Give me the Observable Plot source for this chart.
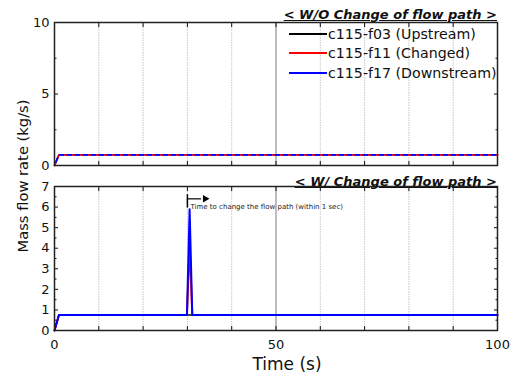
<!DOCTYPE html>
<html><head><meta charset="utf-8">
<script src="https://cdn.jsdelivr.net/npm/d3@7"></script>
<script src="https://cdn.jsdelivr.net/npm/@observablehq/plot@0.6"></script>
<style>
body{margin:0;background:#fff;}
#wrap{position:relative;width:512px;height:376px;overflow:hidden;font-family:"DejaVu Sans",sans-serif;color:#111;}
#wrap svg{position:absolute;left:0;overflow:visible;}
.title{position:absolute;right:15px;font-weight:bold;font-style:italic;font-size:13px;line-height:15px;text-decoration:underline;white-space:nowrap;}
.legend{position:absolute;left:289px;top:24px;font-size:14.2px;}
.legend .row{display:flex;align-items:center;height:19.5px;white-space:nowrap;}
.legend .sw{display:inline-block;width:38px;height:2px;margin-right:1px;}
.ylab{position:absolute;left:22px;top:176px;transform:translate(-50%,-50%) rotate(-90deg);font-size:14.7px;white-space:nowrap;}
.xlab{position:absolute;left:287px;top:364px;transform:translate(-50%,-50%);font-size:17px;white-space:nowrap;}
</style></head><body><div id="wrap"></div>
<script>
// ---- data ----
const seriesNames = ["c115-f03 (Upstream)", "c115-f11 (Changed)", "c115-f17 (Downstream)"];
const seriesColors = ["#000000", "#ff0000", "#0000ff"];
const panelTitles = ["< W/O Change of flow path >", "< W/ Change of flow path >"];

// top panel: without change of flow path
const timeTop = [0, 1, 100];
const topF03 = [0, 0.75, 0.75];
const topF11 = [0, 0.75, 0.75];
const topF17 = [0, 0.75, 0.75];

// bottom panel: with change of flow path
const timeBottom = [0, 1, 29.9, 30.5, 31.1, 100];
const botF03 = [0, 0.75, 0.75, 0.75, 0.75, 0.75];
const botF11 = [0, 0.75, 0.75, 4.2, 0.75, 0.75];
const botF17 = [0, 0.75, 0.75, 5.9, 0.75, 0.75];

// annotation
const annotText = "Time to change the flow path (within 1 sec)";
const annotTime = [30];
const annotSpan = [6.6, 5.95];
const annotArrowY = [6.4];
const annotArrowX = [30, 33.2];
const annotHeadX = [34];
const annotTextPos = [30.7, 6.02];

// ticks
const xTicks = [0, 10, 20, 30, 40, 50, 60, 70, 80, 90, 100];
const xLabelTicks = [0, 50, 100];
const gridMinor = [10, 20, 30, 40, 60, 70, 80, 90];
const gridMajor = [50];
const yTopMajor = [0, 5, 10];
const yTopMinor = [2.5, 7.5];
const yBotMajor = [0, 1, 2, 3, 4, 5, 6, 7];
const yBotMinor = [0.5, 1.5, 2.5, 3.5, 4.5, 5.5, 6.5];

const toRows = (ts, vs) => ts.map((t, i) => ({t, v: vs[i]}));
const none = () => "";

function frameMarks(yMajor, yMinor) {
  return [
    Plot.ruleX(gridMinor, {stroke: "#c8c8c8", strokeDasharray: "1.5,1"}),
    Plot.ruleX(gridMajor, {stroke: "#7a7a7a"}),
    Plot.axisY(yMajor, {tickSize: -4, tickFormat: none, label: null}),
    Plot.axisY(yMinor, {tickSize: -2.5, tickFormat: none, label: null}),
    Plot.axisY(yMajor, {anchor: "right", tickSize: -4, tickFormat: none, label: null}),
    Plot.axisY(yMinor, {anchor: "right", tickSize: -2.5, tickFormat: none, label: null}),
    Plot.axisY(yMajor, {tickSize: 0, tickPadding: 5, fontSize: 13, label: null}),
    Plot.axisX(xTicks, {anchor: "top", tickSize: -4, tickFormat: none, label: null}),
    Plot.axisX(xTicks, {anchor: "bottom", tickSize: -4, tickFormat: none, label: null})
  ];
}

const common = {
  width: 512, marginLeft: 54, marginRight: 15,
  x: {domain: [0, 100]},
  style: {fontFamily: "DejaVu Sans", color: "#111", background: "transparent"}
};

const topChart = Plot.plot({
  ...common,
  height: 170, marginTop: 22, marginBottom: 5,
  y: {domain: [0, 10]},
  marks: [
    ...frameMarks(yTopMajor, yTopMinor),
    Plot.line(toRows(timeTop, topF03), {x: "t", y: "v", stroke: seriesColors[0], strokeWidth: 1.5}),
    Plot.line(toRows(timeTop, topF11), {x: "t", y: "v", stroke: seriesColors[1], strokeWidth: 1.8, strokeDasharray: "4,4"}),
    Plot.line(toRows(timeTop, topF17), {x: "t", y: "v", stroke: seriesColors[2], strokeWidth: 1.8, strokeDasharray: "4,4", strokeDashoffset: 4}),
    Plot.frame({stroke: "#222", strokeWidth: 1.5})
  ]
});

const bottomChart = Plot.plot({
  ...common,
  height: 206, marginTop: 16, marginBottom: 46,
  y: {domain: [0, 7]},
  marks: [
    ...frameMarks(yBotMajor, yBotMinor),
    Plot.axisX(xLabelTicks, {anchor: "bottom", tickSize: 0, tickPadding: 9, fontSize: 13, label: null}),
    Plot.line(toRows(timeBottom, botF03), {x: "t", y: "v", stroke: seriesColors[0], strokeWidth: 1.5}),
    Plot.line(toRows(timeBottom, botF11), {x: "t", y: "v", stroke: seriesColors[1], strokeWidth: 2}),
    Plot.line(toRows(timeBottom, botF17), {x: "t", y: "v", stroke: seriesColors[2], strokeWidth: 2}),
    Plot.ruleX(annotTime, {y1: annotSpan[0], y2: annotSpan[1], stroke: "#000", strokeWidth: 1.5}),
    Plot.ruleY(annotArrowY, {x1: annotArrowX[0], x2: annotArrowX[1], stroke: "#000", strokeWidth: 1.2}),
    Plot.dot(annotHeadX, {x: d => d, y: () => annotArrowY[0], symbol: "triangle", rotate: 90, r: 2.8, fill: "#000", stroke: "none"}),
    Plot.text([annotText], {x: () => annotTextPos[0], y: () => annotTextPos[1], text: d => d, textAnchor: "start", fontSize: 7, fill: "#222"}),
    Plot.frame({stroke: "#222", strokeWidth: 1.5})
  ]
});

const wrap = document.getElementById("wrap");
topChart.style.top = "0px";
bottomChart.style.top = "170px";
wrap.appendChild(topChart);
wrap.appendChild(bottomChart);

function addDiv(cls, text, css) {
  const d = document.createElement("div");
  d.className = cls;
  d.textContent = text;
  Object.assign(d.style, css || {});
  wrap.appendChild(d);
  return d;
}
addDiv("title", panelTitles[0], {top: "6.5px"});
addDiv("title", panelTitles[1], {top: "173.5px"});
addDiv("ylab", "Mass flow rate (kg/s)");
addDiv("xlab", "Time (s)");

const legend = document.createElement("div");
legend.className = "legend";
seriesNames.forEach((name, i) => {
  const row = document.createElement("div");
  row.className = "row";
  const sw = document.createElement("span");
  sw.className = "sw";
  sw.style.backgroundColor = seriesColors[i];
  const tx = document.createElement("span");
  tx.textContent = name;
  row.appendChild(sw);
  row.appendChild(tx);
  legend.appendChild(row);
});
wrap.appendChild(legend);
</script></body></html>
